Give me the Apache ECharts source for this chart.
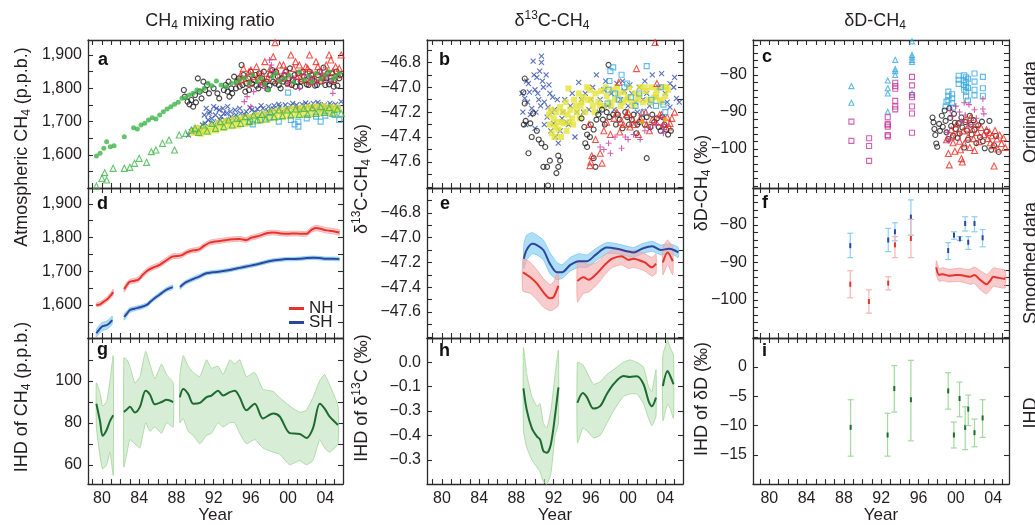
<!DOCTYPE html>
<html><head><meta charset="utf-8">
<script src="https://cdn.jsdelivr.net/npm/echarts@6/dist/echarts.min.js"></script>
<style>html,body{margin:0;padding:0;background:#fff}#c{width:1035px;height:525px}</style>
</head><body><div id="c"></div>
<script>
// ---------------- tick values ----------------
const yearTicks = [1979,1980,1981,1982,1983,1984,1985,1986,1987,1988,1989,1990,1991,1992,1993,1994,1995,1996,1997,1998,1999,2000,2001,2002,2003,2004,2005];
const yearLabels = [1980,1984,1988,1992,1996,2000,2004];
const ppbLabels = [1600,1700,1800,1900];
const ppbTicks = [1550,1600,1650,1700,1750,1800,1850,1900];
const d13Labels = [-47.6,-47.4,-47.2,-47.0,-46.8];
const d13Ticks = [-47.8,-47.7,-47.6,-47.5,-47.4,-47.3,-47.2,-47.1,-47.0,-46.9,-46.8,-46.7];
const dDLabels = [-100,-90,-80];
const dDTicks = [-110,-108,-106,-104,-102,-100,-98,-96,-94,-92,-90,-88,-86,-84,-82,-80,-78,-76,-74,-72];
const ihdCH4Labels = [60,80,100];
const ihdCH4Ticks = [60,70,80,90,100,110];
const ihd13Pos = [0,-0.1,-0.2,-0.3,-0.4];
const ihd13Text = ['0.0','\u22120.1','\u22120.3','\u22120.4','\u22120.3'];
const ihdDLabels = [-15,-10,-5,0];

// ---------------- panel a: CH4 original data [year, ppb] ----------------
const aGreenCirc = [[1979.4,1597],[1979.8,1605],[1980.2,1620],[1980.5,1640],[1980.9,1625],[1981.3,1628],[1982.4,1655],[1983.4,1682],[1983.8,1678],[1984.2,1690],[1984.6,1695],[1985.0,1705],[1985.4,1712],[1985.8,1708],[1986.2,1720],[1986.6,1730],[1987.0,1738],[1987.4,1745],[1987.8,1752],[1988.2,1758],[1988.6,1770],[1989.0,1772],[1989.4,1780],[1989.8,1785],[1990.2,1795],[1990.6,1792],[1991.0,1800],[1991.4,1815],[1991.8,1808],[1992.3,1822],[1992.8,1810],[1993.3,1805],[1993.9,1815],[1994.4,1818],[1994.8,1825],[1995.3,1832],[1995.8,1815],[1996.2,1840],[1996.7,1820],[1997.1,1830],[1997.5,1812],[1997.9,1795],[1998.3,1835],[1998.7,1845],[1999.1,1822],[1999.6,1830],[2000.1,1840],[2000.6,1818],[2001.2,1850],[2001.7,1825],[2002.2,1838],[2002.6,1820],[2003.0,1845],[2003.5,1828],[2004.0,1840],[2004.4,1850],[2004.8,1828],[2005.1,1835],[2005.5,1845]];
const aGreenTri = [[1979.4,1507],[1980.0,1530],[1980.3,1547],[1980.5,1525],[1981.2,1560],[1982.4,1560],[1983.0,1563],[1983.5,1575],[1984.0,1590],[1984.8,1578],[1985.3,1610],[1985.8,1615],[1986.5,1635],[1987.2,1645],[1987.8,1615],[1988.3,1660],[1989.0,1665],[1989.6,1675],[1990.0,1680],[1990.4,1668],[1990.9,1690],[1991.3,1672],[1991.8,1695],[1992.2,1680],[1992.7,1700],[1993.1,1685],[1993.6,1705],[1994.0,1690],[1994.5,1710],[1994.9,1695],[1995.4,1715],[1995.8,1700],[1996.3,1720],[1996.7,1705],[1997.2,1722],[1997.6,1708],[1998.1,1730],[1998.5,1715],[1999.0,1735],[1999.4,1718],[1999.9,1735],[2000.3,1720],[2000.8,1738],[2001.2,1722],[2001.7,1740],[2002.1,1722],[2002.6,1742],[2003.0,1725],[2003.5,1745],[2003.9,1728],[2004.4,1742],[2004.8,1725],[2005.3,1738],[2005.7,1725]];
const aBlackCirc = [[1988.8,1795],[1988.9,1775],[1989.2,1760],[1989.4,1752],[1989.6,1765],[1989.8,1745],[1990.0,1780],[1990.1,1758],[1990.3,1830],[1990.5,1790],[1990.7,1770],[1990.9,1820],[1991.1,1795],[1991.3,1810],[1991.5,1785],[1992.0,1800],[1992.4,1785],[1992.6,1770],[1993.3,1810],[1993.5,1790],[1993.7,1775],[1993.9,1800],[1994.2,1835],[1994.5,1820],[1994.8,1805],[1995.0,1870],[1995.2,1840],[1995.5,1815],[1995.8,1795],[1996.0,1850],[1996.3,1825],[1996.6,1808],[1996.9,1845],[1997.2,1830],[1997.5,1815],[1997.8,1798],[1998.1,1840],[1998.4,1820],[1998.7,1850],[1999.0,1810],[1999.3,1830],[1999.6,1840],[1999.9,1815],[2000.2,1860],[2000.5,1825],[2000.8,1805],[2001.1,1845],[2001.4,1820],[2001.7,1835],[2002.0,1812],[2002.3,1850],[2002.6,1828],[2002.9,1808],[2003.2,1840],[2003.5,1820],[2003.8,1862],[2004.1,1830],[2004.4,1812],[2004.7,1845],[2005.0,1825],[2005.3,1808],[2005.6,1840],
  [1993.1,1795],[1993.6,1820],[1994.0,1785],[1994.4,1800],[1994.7,1830],[1995.1,1810],[1995.4,1790],[1995.7,1830],[1996.1,1815],[1996.5,1840],[1996.8,1800],[1997.1,1810],[1997.4,1850],[1997.7,1820],[1998.0,1808],[1998.3,1855],[1998.6,1815],[1998.9,1835],[1999.2,1800],[1999.5,1820],[1999.8,1850],[2000.1,1830],[2000.4,1810],[2000.7,1840],[2001.0,1820],[2001.3,1805],[2001.6,1850],[2001.9,1825],[2002.2,1810],[2002.5,1840],[2002.8,1822],[2003.1,1810],[2003.4,1850],[2003.7,1830],[2004.0,1810],[2004.3,1845],[2004.6,1822],[2004.9,1805],[2005.2,1850],[2005.5,1830]];
const aRedTri = [[1994.6,1820],[1994.9,1840],[1995.2,1860],[1995.5,1830],[1995.8,1850],[1996.0,1855],[1996.3,1835],[1996.6,1865],[1996.9,1825],[1997.2,1845],[1997.5,1880],[1997.8,1830],[1998.1,1860],[1998.4,1895],[1998.6,1937],[1998.8,1850],[1999.1,1870],[1999.4,1830],[1999.7,1855],[2000.0,1840],[2000.3,1900],[2000.6,1860],[2000.9,1835],[2001.2,1870],[2001.5,1850],[2001.8,1825],[2002.1,1860],[2002.3,1900],[2002.6,1845],[2002.9,1830],[2003.2,1865],[2003.5,1850],[2003.8,1835],[2004.1,1870],[2004.4,1900],[2004.6,1885],[2004.8,1850],[2005.1,1865],[2005.4,1840],[2005.7,1900],
  [1995.0,1825],[1995.9,1815],[1996.8,1840],[1997.3,1820],[1998.0,1845],[1998.9,1825],[1999.5,1870],[2000.1,1815],[2000.8,1880],[2001.4,1830],[2001.9,1865],[2002.4,1820],[2003.0,1880],[2003.6,1825],[2004.2,1850],[2004.9,1825],[2005.5,1860]];
const aMagPlus = [[1995.3,1760],[1995.6,1775],[1996.0,1745],[1996.3,1790],[1997.0,1810],[1997.5,1800],[1998.0,1885],[1998.2,1870],[1998.4,1850],[1999.0,1825],[1999.5,1845],[2000.0,1815],[2000.6,1830],[2001.2,1800],[2001.8,1840],[2002.5,1830],[2003.0,1815],[2003.6,1845],[2004.2,1835],[2004.5,1820],[2004.8,1785]];
const aBlueX = [[1989.3,1660],[1989.6,1670],[1989.9,1675],[1990.2,1668],[1990.5,1682],[1990.8,1690],[1991.0,1720],[1991.2,1740],[1991.4,1705],[1991.6,1730],[1991.8,1710],[1992.0,1745],[1992.2,1720],[1992.4,1700],[1992.6,1735],[1992.8,1715],[1993.0,1740],[1993.2,1705],[1993.4,1725],[1993.6,1700],[1993.8,1730],[1994.0,1710],[1994.3,1735],[1994.6,1705],[1994.9,1725],[1995.2,1712],[1995.5,1730],[1995.8,1715],[1996.1,1735],[1996.4,1718],[1996.7,1738],[1997.0,1720],[1997.3,1740],[1997.6,1725],[1997.9,1745],[1998.2,1728],[1998.5,1748],[1998.8,1730],[1999.1,1745],[1999.4,1732],[1999.7,1750],[2000.0,1735],[2000.3,1748],[2000.6,1733],[2000.9,1750],[2001.2,1735],[2001.5,1752],[2001.8,1738],[2002.1,1750],[2002.4,1736],[2002.7,1755],[2003.0,1738],[2003.3,1752],[2003.6,1735],[2003.9,1750],[2004.2,1738],[2004.5,1755],[2004.8,1740],[2005.1,1752],[2005.4,1738],[2005.7,1760],
  [1990.6,1672],[1991.1,1695],[1991.5,1725],[1991.9,1695],[1992.3,1740],[1992.7,1705],[1993.1,1725],[1993.5,1745],[1993.9,1715],[1994.4,1720],[1994.8,1740],[1995.3,1722],[1995.9,1742],[1996.5,1728],[1997.1,1748],[1997.8,1732],[1998.4,1738],[1999.0,1752],[1999.8,1740],[2000.5,1755],[2001.1,1742],[2001.9,1756],[2002.6,1742],[2003.2,1758],[2003.9,1742],[2004.6,1748],[2005.2,1742]];
const aYellowSq = [[1989.8,1668],[1990.2,1680],[1990.6,1665],[1991.0,1678],[1991.4,1670],[1991.8,1685],[1992.2,1675],[1992.6,1695],[1993.0,1682],[1993.4,1700],[1993.8,1688],[1994.2,1705],[1994.6,1690],[1995.0,1710],[1995.4,1695],[1995.8,1712],[1996.2,1700],[1996.6,1718],[1997.0,1703],[1997.4,1722],[1997.8,1708],[1998.2,1728],[1998.6,1712],[1999.0,1732],[1999.4,1715],[1999.8,1735],[2000.2,1718],[2000.6,1738],[2001.0,1722],[2001.4,1740],[2001.8,1722],[2002.2,1742],[2002.6,1725],[2003.0,1744],[2003.4,1726],[2003.8,1745],[2004.2,1728],[2004.6,1742],[2004.9,1727],[2005.3,1740]];
const aLightBlueSq = [[1995.9,1700],[1996.2,1692],[1997.0,1705],[1998.0,1712],[1999.0,1700],[2000.0,1787],[2000.3,1705],[2000.7,1692],[2001.1,1685],[2001.1,1700],[2002.0,1710],[2003.0,1715],[2003.5,1700],[2004.0,1718],[2005.0,1720],[2005.5,1705]];

// ---------------- panel b: d13C original data [year, permil] ----------------
const bBlueX = [[1988.6,-47.05],[1988.9,-47.09],[1989.1,-46.95],[1989.3,-46.97],[1989.5,-47.22],[1989.65,-47.17],[1989.8,-46.79],[1990.0,-47.02],[1990.0,-47.33],[1990.2,-46.92],[1990.4,-47.1],[1990.5,-46.87],[1990.7,-46.75],[1990.7,-46.8],[1990.9,-47.0],[1991.0,-47.12],[1991.2,-46.9],[1991.3,-47.24],[1991.4,-47.16],[1991.6,-47.05],[1991.8,-47.2],[1992.0,-47.29],[1992.2,-47.4],[1992.4,-47.1],[1992.7,-47.35],[1993.0,-47.2],[1993.4,-47.28],[1993.8,-47.15],[1994.3,-47.4],[1994.7,-46.96],[1995.0,-47.1],[1995.4,-47.05],[1995.8,-47.18],[1996.2,-47.0],[1996.6,-46.9],[1997.0,-47.1],[1997.4,-47.02],[1997.8,-47.15],[1998.2,-47.05],[1998.8,-46.97],[1999.2,-47.1],[1999.6,-47.03],[2000.0,-47.15],[2000.4,-47.05],[2000.8,-47.12],[2001.2,-47.0],[2001.6,-47.1],[2002.0,-47.05],[2002.6,-46.9],[2003.0,-47.08],[2003.6,-46.89],[2004.0,-47.05],[2004.5,-46.97],[2004.5,-47.16],[2004.9,-47.0],[2005.2,-47.09],[2005.5,-47.12],
  [1988.7,-47.2],[1989.0,-47.3],[1989.2,-47.12],[1989.4,-47.04],[1989.9,-46.9],[1990.1,-47.2],[1990.3,-47.05],[1990.6,-47.15],[1990.8,-46.95],[1991.0,-47.3],[1991.5,-46.98],[1991.7,-47.35],[1991.9,-47.08],[1992.1,-47.18],[1992.5,-47.45],[1992.9,-47.25],[1993.2,-47.1],[1993.6,-47.3],[1994.0,-47.05],[1994.5,-47.2],[1995.2,-47.2],[1996.0,-47.1],[1996.9,-47.2],[1997.6,-46.95],[1998.5,-47.18],[1999.4,-46.95],[2000.2,-46.98],[2001.0,-47.2],[2001.8,-46.95],[2002.3,-47.15],[2003.3,-47.0],[2004.2,-47.12],[2005.0,-46.92]];
const bBlackCirc = [[1988.75,-47.04],[1988.9,-46.93],[1988.9,-47.13],[1988.8,-47.3],[1989.0,-47.27],[1989.3,-47.53],[1989.5,-47.29],[1989.65,-47.4],[1989.8,-47.21],[1990.2,-47.35],[1990.4,-47.42],[1990.7,-47.45],[1990.9,-47.64],[1991.1,-47.48],[1991.3,-47.64],[1991.4,-47.79],[1991.6,-47.59],[1992.3,-47.69],[1992.5,-47.55],[1992.5,-47.64],[1992.7,-47.59],[1995.0,-47.25],[1995.3,-47.32],[1995.6,-47.38],[1995.6,-47.48],[1995.9,-47.4],[1996.3,-47.34],[1996.3,-47.57],[1996.5,-47.64],[1996.6,-47.26],[1997.2,-47.18],[1997.5,-47.3],[1997.7,-47.2],[1997.9,-46.82],[1998.4,-47.22],[1998.7,-47.3],[1999.1,-47.26],[1999.4,-47.33],[1999.7,-47.2],[2000.1,-47.3],[2000.4,-47.26],[2000.9,-47.37],[2001.2,-47.28],[2001.5,-47.25],[2002.0,-47.24],[2002.0,-47.57],[2002.4,-47.32],[2002.8,-47.28],[2003.1,-47.25],[2003.5,-47.35],[2003.9,-47.3],[2004.3,-47.38],[2004.6,-47.35],
  [1995.4,-47.45],[1996.0,-47.3],[1996.8,-47.22],[1997.3,-47.26],[1998.0,-47.24],[1998.9,-47.22],[1999.9,-47.24],[2000.6,-47.22],[2001.0,-47.3],[2001.8,-47.3],[2002.6,-47.22],[2003.3,-47.32],[2003.7,-47.24],[2004.1,-47.34]];
const bYellowSq = [[1991.5,-47.22],[1991.6,-47.3],[1991.8,-47.37],[1992.0,-47.25],[1992.2,-47.32],[1992.3,-47.2],[1992.5,-47.34],[1992.7,-47.16],[1992.9,-47.28],[1993.1,-47.29],[1993.3,-47.12],[1993.5,-47.22],[1993.6,-47.01],[1993.8,-47.18],[1994.0,-47.25],[1994.2,-47.1],[1994.5,-47.2],[1994.7,-47.05],[1994.9,-47.15],[1995.2,-47.08],[1995.4,-47.2],[1995.7,-47.1],[1995.9,-47.02],[1996.2,-47.15],[1996.5,-47.05],[1996.8,-47.12],[1997.1,-47.03],[1997.4,-47.15],[1997.7,-47.07],[1998.0,-47.12],[1998.3,-47.02],[1998.6,-47.1],[1998.9,-47.05],[1999.2,-47.15],[1999.5,-47.04],[1999.8,-47.1],[2000.1,-47.0],[2000.4,-47.12],[2000.7,-47.05],[2001.0,-47.1],[2001.3,-47.0],[2001.6,-47.12],[2001.9,-47.03],[2002.2,-47.1],[2002.5,-47.0],[2002.8,-47.08],[2003.1,-47.02],[2003.4,-47.1],[2003.7,-47.0],[2004.0,-47.07],[2004.3,-47.02],
  [1991.7,-47.18],[1992.1,-47.4],[1992.4,-47.28],[1992.8,-47.4],[1993.0,-47.2],[1993.4,-47.35],[1993.7,-47.28],[1994.1,-47.3],[1994.4,-47.15],[1994.8,-47.25],[1995.0,-47.12],[1995.6,-47.0],[1996.0,-47.1],[1996.4,-47.2],[1997.0,-47.15],[1997.6,-47.0],[1998.2,-47.15],[1998.8,-47.0],[1999.4,-47.12],[2000.0,-47.08],[2000.6,-47.15],[2001.2,-47.06],[2001.8,-47.0],[2002.4,-47.12],[2003.0,-47.06],[2003.6,-47.12],[2004.1,-47.0]];
const bRedTri = [[1995.8,-47.3],[1995.9,-47.63],[1996.0,-47.6],[1996.1,-47.55],[1996.5,-47.42],[1997.0,-47.53],[1997.2,-47.61],[1997.4,-47.35],[1997.7,-47.28],[1998.1,-47.38],[1998.5,-47.25],[1999.0,-46.96],[1999.1,-47.36],[1999.5,-47.3],[1999.8,-47.22],[2000.2,-47.32],[2000.5,-47.26],[2000.9,-46.85],[2001.1,-47.38],[2001.5,-47.2],[2002.0,-47.3],[2002.6,-47.26],[2002.9,-46.64],[2003.1,-46.97],[2003.4,-47.22],[2003.8,-47.3],[2004.2,-47.24],[2004.5,-47.29],[2004.7,-47.25],[2005.0,-47.2],
  [1998.8,-47.2],[1999.2,-47.28],[2000.0,-47.2],[2000.7,-47.3],[2001.3,-47.25],[2001.9,-47.2],[2002.3,-47.35],[2003.0,-47.28],[2003.6,-47.22],[2004.4,-47.32]];
const bMagPlus = [[1997.0,-47.48],[1997.4,-47.5],[1997.9,-47.45],[1998.1,-47.53],[1998.6,-47.4],[1999.3,-47.49],[1999.7,-47.4],[2000.0,-47.42],[2000.6,-47.38],[2001.3,-47.42],[2001.8,-47.35],[2002.4,-47.33],[2003.0,-47.3],[2003.8,-47.25],[2003.8,-47.3],[2003.8,-47.34],[2003.8,-47.37]];
const bLightBlueSq = [[1997.8,-47.13],[1997.9,-47.02],[1998.0,-46.95],[1998.1,-46.87],[1998.4,-46.84],[1998.6,-47.05],[1999.0,-47.1],[1999.3,-46.9],[1999.6,-47.0],[1999.9,-46.97],[2000.3,-47.08],[2000.8,-47.15],[2001.2,-47.05],[2001.7,-47.2],[2002.0,-46.83],[2002.5,-47.1],[2003.0,-47.15],[2003.5,-47.0],[2003.8,-47.14],[2004.0,-47.2]];
const bOrangeCirc = [[2001.5,-47.28],[2004.0,-47.26]];

// ---------------- panel c: dD original data [year, permil] ----------------
const cTriLB = [[1988.8,-83],[1988.8,-87.5],[1992.7,-81.5],[1992.7,-83.6],[1992.7,-85],[1992.7,-89.9],[1993.5,-75.9],[1993.5,-78.4],[1993.5,-79],[1993.5,-80],[1995.3,-70.9],[1995.3,-74.6],[1995.3,-75.2],[1995.3,-75.9],[1995.3,-76.5],[1995.3,-85]];
const cSqMag = [[1988.8,-92.6],[1988.8,-97.8],[1990.7,-97.1],[1990.7,-99.2],[1990.7,-103.2],[1992.7,-91.4],[1992.7,-93.2],[1992.7,-93.6],[1992.7,-94],[1992.7,-96.2],[1992.7,-96.6],[1993.5,-82.1],[1993.5,-83],[1993.5,-83.7],[1993.5,-87],[1993.5,-88.5],[1993.5,-89.3],[1995.3,-80.5],[1995.3,-82.8],[1995.3,-85.4],[1995.3,-86],[1995.3,-88.5],[1995.3,-90.4],[1995.3,-95.6]];
const cSqLB = [[1998.9,-88.5],[1999.0,-87.2],[1999.2,-84.5],[1999.2,-85.6],[1999.2,-86.8],[1999.6,-85.2],[1999.6,-86.3],[1999.6,-87.6],[1999.7,-88.8],[2000.3,-80.2],[2000.3,-81.3],[2000.3,-82.4],[2000.9,-80.1],[2000.9,-81.5],[2000.9,-82.7],[2000.9,-84],[2001.1,-80.6],[2001.1,-82],[2001.1,-83.2],[2001.1,-84.5],[2001.1,-85.8],[2001.3,-81],[2001.3,-83.5],[2001.3,-86.9],[2002.0,-79.6],[2002.0,-81.8],[2002.0,-84],[2002.0,-85.5],[2002.9,-80.5],[2002.9,-83.6],[2002.9,-85.6]];
const cCircBlk = [[1997.5,-91.5],[1997.6,-92.8],[1997.7,-94.6],[1997.8,-96.2],[1997.9,-98.5],[1998.0,-99.4],[1998.2,-93.2],[1998.3,-95.1],[1998.5,-91],[1998.6,-94],[1998.8,-89.6],[1998.9,-92.4],[1999.0,-95.5],[1999.2,-97.3],[1999.3,-89],[1999.4,-91.6],[1999.5,-93.8],[1999.7,-96.4],[1999.8,-90.5],[1999.9,-92.9],[2000.0,-94.6],[2000.2,-97],[2000.3,-93],[2000.4,-95.8],[2000.6,-91.5],[2000.7,-94.2],[2000.9,-99.6],[2001.0,-92.7],[2001.2,-95],[2001.3,-97.5],[2001.5,-91],[2001.6,-93.4],[2001.7,-96.1],[2001.9,-92.2],[2002.0,-94.8],[2002.2,-98.4],[2002.4,-93.6],[2002.6,-96.8],[2002.8,-92.6],[2002.9,-97.9],[2003.1,-99.8],[2003.3,-95.3],[2003.6,-92.4],[2003.8,-100.2],[2004.1,-99],[2004.3,-96.5],[2004.6,-100.8]];
const cTriRed = [[1999.0,-97.5],[1999.2,-101.2],[1999.3,-104.3],[1999.5,-94.8],[1999.6,-96.7],[1999.7,-98.3],[1999.9,-100.6],[2000.1,-93.2],[2000.2,-95.6],[2000.4,-97.9],[2000.5,-100.2],[2000.6,-102.6],[2000.7,-103.5],[2000.8,-95.1],[2000.9,-98.6],[2001.1,-92],[2001.2,-94.4],[2001.3,-96.8],[2001.5,-99.6],[2001.6,-91.5],[2001.8,-94.7],[2001.9,-97.2],[2002.0,-100.4],[2002.2,-93.1],[2002.3,-95.5],[2002.5,-98],[2002.7,-94.2],[2003.0,-96.1],[2003.3,-94.8],[2003.4,-97.2],[2003.6,-95.5],[2003.7,-98.3],[2003.9,-96.4],[2004.0,-99.1],[2004.1,-104.6],[2004.2,-95],[2004.4,-97.3],[2004.5,-100],[2004.7,-96.2],[2004.9,-98.5],[2005.1,-97],[2005.3,-99.6]];
const cPlusMag = [[1999.1,-95.5],[1999.2,-97.8],[1999.4,-89.6],[1999.6,-91.2],[2000.0,-88.4],[2000.4,-90],[2000.6,-92.6],[2000.9,-87.5],[2001.0,-90.8],[2001.4,-88],[2001.5,-93.4],[2002.0,-89.4],[2002.2,-91.7],[2002.9,-86.5],[2002.9,-89.2],[2003.0,-90.5]];

// ---------------- panel d: smoothed CH4 [year, mid, low, high] ----------------
const dNH1 = [[1979.4,1600,1595,1606],[1979.8,1602,1596,1609],[1980.2,1610,1603,1617],[1980.6,1618,1611,1626],[1981.0,1630,1622,1639],[1981.2,1638,1629,1647]];
const dNH2 = [[1982.4,1647,1638,1655],[1982.7,1660,1652,1668],[1983.0,1669,1662,1676],[1983.5,1672,1665,1679],[1983.9,1675,1668,1683],[1984.4,1690,1683,1698],[1985.0,1704,1697,1712],[1985.6,1712,1705,1720],[1986.2,1719,1712,1727],[1986.9,1732,1725,1740],[1987.6,1744,1737,1752],[1988.1,1745,1738,1752],[1988.6,1748,1741,1755],[1989.1,1756,1749,1763],[1989.6,1761,1754,1768],[1990.1,1763,1756,1770],[1990.5,1766,1759,1773],[1991.0,1776,1769,1783],[1991.6,1785,1778,1792],[1992.1,1788,1781,1795],[1992.7,1790,1783,1797],[1993.4,1793,1786,1800],[1994.1,1795,1788,1802],[1994.8,1796,1789,1803],[1995.5,1793,1786,1800],[1996.0,1799,1792,1806],[1996.6,1803,1796,1810],[1997.2,1808,1801,1815],[1997.7,1813,1806,1820],[1998.3,1815,1808,1822],[1998.8,1814,1807,1821],[1999.3,1812,1805,1819],[1999.8,1811,1804,1818],[2000.4,1812,1805,1819],[2000.9,1812,1805,1819],[2001.5,1811,1804,1818],[2002.0,1811,1804,1818],[2002.5,1823,1815,1831],[2003.0,1828,1820,1836],[2003.5,1826,1818,1834],[2004.0,1822,1814,1830],[2004.5,1820,1812,1828],[2005.0,1818,1810,1826],[2005.5,1815,1807,1823]];
const dSH1 = [[1979.4,1516,1505,1527],[1979.7,1527,1515,1539],[1980.0,1536,1524,1548],[1980.5,1540,1528,1552],[1980.8,1546,1534,1558],[1981.1,1555,1543,1567]];
const dSH2 = [[1982.4,1565,1555,1575],[1982.7,1575,1567,1583],[1983.0,1585,1578,1592],[1983.5,1589,1583,1595],[1984.1,1593,1587,1599],[1984.8,1600,1594,1606],[1985.3,1612,1606,1618],[1985.9,1625,1619,1631],[1986.4,1635,1629,1641],[1986.9,1645,1639,1651],[1987.6,1653,1647,1659]];
const dSH3 = [[1988.4,1653,1647,1659],[1988.9,1665,1659,1671],[1989.3,1671,1665,1677],[1989.8,1677,1671,1683],[1990.5,1685,1679,1691],[1991.2,1694,1689,1699],[1991.9,1697,1692,1702],[1992.7,1699,1694,1704],[1993.4,1702,1697,1707],[1994.1,1706,1701,1711],[1994.8,1710,1705,1715],[1995.5,1714,1709,1719],[1996.2,1718,1713,1723],[1996.9,1722,1717,1727],[1997.7,1728,1723,1733],[1998.4,1732,1727,1737],[1999.1,1734,1729,1739],[1999.8,1736,1731,1741],[2000.5,1736,1731,1741],[2001.2,1737,1732,1742],[2002.0,1739,1734,1744],[2002.7,1740,1735,1745],[2003.4,1739,1734,1744],[2004.1,1737,1732,1742],[2004.8,1737,1732,1742],[2005.5,1736,1731,1741]];

// ---------------- panel e: smoothed d13C [year, mid, low, high] ----------------
const eSH = [[1988.8,-47.17,-47.25,-47.06],[1989.1,-47.10,-47.18,-46.98],[1989.7,-47.05,-47.13,-46.96],[1990.2,-47.06,-47.14,-46.98],[1990.9,-47.10,-47.18,-47.02],[1991.6,-47.21,-47.29,-47.12],[1992.35,-47.28,-47.34,-47.2],[1992.9,-47.28,-47.33,-47.22],[1993.8,-47.22,-47.27,-47.16],[1994.7,-47.19,-47.24,-47.13],[1995.6,-47.19,-47.24,-47.14],[1996.5,-47.14,-47.19,-47.09],[1997.7,-47.08,-47.13,-47.04],[1998.8,-47.09,-47.13,-47.05],[1999.9,-47.11,-47.15,-47.07],[2000.6,-47.12,-47.16,-47.08],[2001.5,-47.09,-47.13,-47.05],[2002.6,-47.07,-47.11,-47.03],[2003.5,-47.10,-47.14,-47.06],[2004.4,-47.09,-47.13,-47.05],[2004.9,-47.10,-47.14,-47.06],[2005.4,-47.12,-47.16,-47.08]];
const eNH1 = [[1988.7,-47.28,-47.43,-47.17],[1989.5,-47.32,-47.45,-47.2],[1990.2,-47.37,-47.5,-47.26],[1990.9,-47.44,-47.56,-47.33],[1991.6,-47.49,-47.59,-47.38],[1992.0,-47.48,-47.58,-47.36],[1992.5,-47.39,-47.55,-47.27]];
const eNH2 = [[1994.56,-47.35,-47.52,-47.2],[1995.2,-47.32,-47.45,-47.2],[1995.75,-47.34,-47.44,-47.22],[1996.65,-47.29,-47.38,-47.2],[1997.5,-47.22,-47.3,-47.14],[1998.3,-47.17,-47.24,-47.1],[1999.3,-47.15,-47.22,-47.09],[2000.05,-47.18,-47.25,-47.11],[2000.6,-47.17,-47.24,-47.1],[2001.1,-47.18,-47.25,-47.11],[2001.8,-47.20,-47.27,-47.13],[2002.56,-47.24,-47.31,-47.16],[2003.0,-47.21,-47.29,-47.13]];
const eNH3 = [[2003.74,-47.20,-47.3,-47.08],[2004.24,-47.12,-47.22,-47.02],[2004.8,-47.19,-47.3,-47.08]];

// ---------------- panel f: smoothed dD [year, mid, low, high] ----------------
const fSHerr = [[1988.68,-85.5,-88.7,-82.2],[1992.75,-84,-87.1,-80.9],[1993.47,-81.8,-84.2,-79.4],[1995.18,-77.9,-82.7,-73.3],[1999.18,-86.8,-89.2,-84.7],[1999.8,-82.7,-83.8,-81.8],[2000.43,-83.7,-84.1,-83.1],[2001.0,-79.6,-81.6,-77.8],[2001.33,-84.6,-86.5,-83.1],[2002.0,-79.6,-81.8,-77.8],[2002.87,-83.4,-85.8,-81.2]];
const fNHerr = [[1988.68,-95.8,-99.4,-92.2],[1990.68,-100.4,-103.5,-97.3],[1992.75,-95.5,-97.3,-93.8],[1993.47,-85.3,-88.7,-83.1],[1995.18,-83.6,-88.7,-78.5]];
const fNH = [[1997.9,-91.3,-93.2,-89.5],[1998.2,-93.3,-95,-91.6],[1998.6,-93.1,-94.8,-91.4],[1999.2,-93.5,-95.2,-91.8],[1999.8,-93.4,-95.1,-91.7],[2000.4,-93.3,-95.1,-91.5],[2001.0,-93.6,-95.4,-91.8],[2001.5,-93.8,-95.8,-91.8],[2002.0,-93.3,-95.6,-91.2],[2002.5,-94.4,-97,-92],[2003.0,-95.4,-98,-92.8],[2003.3,-95.8,-98.3,-93.2],[2003.7,-94.8,-97.3,-92.4],[2004.0,-93.8,-96.3,-91.4],[2004.6,-94.1,-96.6,-91.7],[2005.3,-94.4,-96.8,-92]];

// ---------------- panel g: IHD of CH4 [year, mid, low, high] ----------------
const g1 = [[1979.4,89.1,78,99],[1979.8,80.6,64,94],[1980.07,73.8,58,88],[1980.5,76.6,60,90],[1980.86,80.8,66,100],[1981.21,83.6,55,112]];
const g2 = [[1982.36,85.2,59,111],[1982.7,86.5,66,110],[1983.0,87.6,72,107],[1983.54,84.9,70,99],[1984.08,87.6,68,102],[1984.69,95.3,80,114],[1985.15,93.5,76,108],[1985.69,88.8,78,101],[1986.4,89.9,75,108],[1986.94,91,80,103],[1987.65,89.9,78,99]];
const g3 = [[1988.37,92.2,80,102],[1988.73,96.1,82,112],[1989.26,93.8,76,107],[1989.8,89.1,74,104],[1990.52,89.5,70,102],[1991.24,92.2,74,110],[1991.77,93,75,106],[1992.48,95.3,80,107],[1993.02,93,78,103],[1993.74,94.6,80,110],[1994.27,95.3,80,108],[1994.8,92.2,75,110],[1995.52,86,70,102],[1996.42,89.1,72,104],[1997.3,82.1,68,96],[1998.39,84.4,66,95],[1999.1,83,65,92],[2000.17,75.1,60,88],[2001.25,74.7,62,85],[2001.96,72.8,60,86],[2002.67,77.4,62,92],[2003.4,89.1,72,100],[2003.93,86.8,68,103],[2004.47,82.9,66,98],[2005.36,79,70,88]];

// ---------------- panel h: IHD of d13C (plotted on the printed tick positions) ----------------
const h1 = [[1988.76,-0.107,-0.28,0.06],[1989.12,-0.197,-0.35,-0.05],[1989.66,-0.27,-0.4,-0.14],[1990.2,-0.304,-0.43,-0.18],[1990.55,-0.317,-0.45,-0.17],[1990.9,-0.364,-0.49,-0.25],[1991.27,-0.371,-0.5,-0.27],[1991.7,-0.337,-0.46,-0.2],[1992.16,-0.217,-0.3,-0.05],[1992.52,-0.103,-0.25,0.05]];
const h2 = [[1994.56,-0.166,-0.33,0.0],[1995.14,-0.126,-0.27,-0.01],[1995.57,-0.143,-0.28,-0.04],[1996.28,-0.19,-0.31,-0.09],[1997.0,-0.18,-0.3,-0.08],[1997.72,-0.13,-0.25,-0.05],[1998.43,-0.09,-0.2,-0.03],[1999.5,-0.056,-0.14,0.0],[2000.2,-0.06,-0.13,0.01],[2000.95,-0.057,-0.13,0.0],[2001.66,-0.09,-0.17,-0.02],[2002.2,-0.159,-0.23,-0.1],[2002.56,-0.18,-0.26,-0.12],[2003.0,-0.145,-0.22,-0.03]];
const h3 = [[2003.74,-0.097,-0.24,0.03],[2004.24,-0.036,-0.17,0.09],[2004.53,-0.056,-0.19,0.06],[2004.88,-0.09,-0.23,0.03]];

// ---------------- panel i: IHD of dD [year, mid, low, high] ----------------
const iErr = [[1988.72,-10.3,-15.2,-5.6],[1992.68,-11.6,-15.2,-7.9],[1993.4,-3.7,-7.7,0.2],[1995.18,-5.6,-12.6,1.1],[1999.18,-4.1,-7.2,-1.0],[1999.79,-11.6,-13.8,-9.4],[2000.4,-5.4,-8.5,-2.6],[2001.0,-10.3,-14.1,-6.8],[2001.33,-7.2,-10.0,-4.8],[2002.0,-11.2,-13.6,-8.9],[2002.87,-8.7,-12.0,-5.6]];

// =================== chart construction ===================
const FONT = 'Liberation Sans, Arial, Helvetica, sans-serif';
const AX = '#2b2b2b';
const TXT = '#231f20';
const C = {green:'#3db54a', red:'#ee2a24', black:'#1a1a1a', mag:'#c8389e', blue:'#2f4fae', yellow:'#e4e23a', lblue:'#39a9e1', orange:'#f5a623',
  nh:'#e8322b', nhBand:'rgba(244,170,170,0.6)', nhEdge:'#f2a3a3', sh:'#2c46a0', shBand:'rgba(130,205,240,0.65)', shEdge:'#7cc8ee',
  ihd:'#1d6b33', ihdBand:'rgba(190,225,185,0.6)', ihdEdge:'#9fd597', errBlue:'#8ccff0', errRed:'#f5b5b5', errGreen:'#a3d99d'};

const colLeft = [88, 427, 753];
const colW = [255, 256, 256];
const rowTop = [40, 188, 338];
const rowH = [148, 150, 149];
const xRange = [[1978.5,2005.9],[1978.4,2005.9],[1978.25,2005.7]];

const minus = v => (v < 0 ? '\u2212' : '') + Math.abs(v);
const fmtPPB = v => String(v).replace(/\B(?=(\d{3})+(?!\d))/g, ',');
const fmtD13 = v => (v < 0 ? '\u2212' : '') + Math.abs(v).toFixed(1);
const fmtH = v => { let k = ihd13Pos.findIndex(p => Math.abs(p - v) < 1e-6); return k >= 0 ? ihd13Text[k] : ''; };
const fmtYear = v => String(Math.round(v) % 100).padStart(2, '0');

const yCfg = [
  {min:1501, max:1945, labels:ppbLabels, ticks:ppbTicks, fmt:fmtPPB},
  {min:-47.81, max:-46.62, labels:d13Labels, ticks:d13Ticks, fmt:fmtD13},
  {min:-110.54, max:-70.54, labels:dDLabels, ticks:dDTicks, fmt:minus},
  {min:1502, max:1947, labels:ppbLabels, ticks:ppbTicks, fmt:fmtPPB},
  {min:-47.81, max:-46.6, labels:d13Labels, ticks:d13Ticks, fmt:fmtD13},
  {min:-110.13, max:-70.13, labels:dDLabels, ticks:dDTicks, fmt:minus},
  {min:50.8, max:120.4, labels:ihdCH4Labels, ticks:ihdCH4Ticks, fmt:v=>String(v)},
  {min:-0.5, max:0.1, labels:ihd13Pos, ticks:ihd13Pos, fmt:fmtH},
  {min:-19.95, max:4.9, labels:ihdDLabels, ticks:ihdDLabels, fmt:minus}
];

const grid = [], xAxis = [], yAxis = [];
for (let p = 0; p < 9; p++) {
  const r = Math.floor(p / 3), c = p % 3;
  grid.push({left: colLeft[c], top: rowTop[r], width: colW[c], height: rowH[r], show: false});
  const lineCommon = {show: true, onZero: false, lineStyle: {color: AX, width: 1.3}};
  const tickCommon = {show: true, inside: true, length: 5, lineStyle: {color: AX, width: 1.1}};
  [ 'bottom', 'top' ].forEach(pos => {
    xAxis.push({type: 'value', gridIndex: p, min: xRange[c][0], max: xRange[c][1], position: pos,
      axisLine: lineCommon, axisTick: Object.assign({customValues: yearTicks}, tickCommon),
      axisLabel: {show: pos === 'bottom' && r === 2, customValues: yearLabels, formatter: fmtYear, fontSize: 16, color: TXT, fontFamily: FONT, margin: 6},
      splitLine: {show: false},
      name: (pos === 'bottom' && r === 2) ? 'Year' : '', nameLocation: 'middle', nameGap: 20,
      nameTextStyle: {fontSize: 17, color: TXT, fontFamily: FONT}});
  });
  const y = yCfg[p];
  [ 'left', 'right' ].forEach(pos => {
    yAxis.push({type: 'value', gridIndex: p, min: y.min, max: y.max, position: pos,
      axisLine: lineCommon, axisTick: Object.assign({customValues: y.ticks}, tickCommon),
      axisLabel: {show: pos === 'left', customValues: y.labels, formatter: y.fmt, fontSize: 16, color: TXT, fontFamily: FONT, margin: 6},
      splitLine: {show: false}});
  });
}

const SYM = {x: 'path://M0,0L10,10M10,0L0,10', plus: 'path://M5,0L5,10M0,5L10,5'};
function sc(p, data, symbol, color, filled, size, z) {
  return {type: 'scatter', xAxisIndex: p * 2, yAxisIndex: p * 2, data: data, symbol: symbol, symbolSize: size, z: z || 2, silent: true,
    itemStyle: filled ? {color: color} : {color: 'rgba(255,255,255,0)', borderColor: color, borderWidth: 1.1}};
}
function band(p, rows, fill, edge) {
  return {type: 'custom', xAxisIndex: p * 2, yAxisIndex: p * 2, data: rows, silent: true, z: 1, encode: {x: 0, y: 1},
    renderItem: function (params, api) {
      if (params.dataIndex !== 0) return null;
      const up = rows.map(rw => api.coord([rw[0], rw[3]]));
      const lo = rows.map(rw => api.coord([rw[0], rw[2]])).reverse();
      return {type: 'polygon', shape: {points: up.concat(lo), smooth: 0.15}, style: {fill: fill, stroke: edge, lineWidth: 0.8}};
    }};
}
function line(p, rows, color, name) {
  return {type: 'line', name: name, xAxisIndex: p * 2, yAxisIndex: p * 2, data: rows.map(rw => [rw[0], rw[1]]), symbol: 'none', smooth: 0.3,
    silent: true, z: 3, lineStyle: {color: color, width: 2}, itemStyle: {color: color}};
}
function err(p, rows, light, dark) {
  return {type: 'custom', xAxisIndex: p * 2, yAxisIndex: p * 2, data: rows, silent: true, z: 3, encode: {x: 0, y: 1},
    renderItem: function (params, api) {
      const x = api.value(0);
      const pl = api.coord([x, api.value(2)]), ph = api.coord([x, api.value(3)]), pm = api.coord([x, api.value(1)]);
      const st = {stroke: light, lineWidth: 1.2};
      return {type: 'group', children: [
        {type: 'line', shape: {x1: pl[0], y1: pl[1], x2: ph[0], y2: ph[1]}, style: st},
        {type: 'line', shape: {x1: pl[0] - 3, y1: pl[1], x2: pl[0] + 3, y2: pl[1]}, style: st},
        {type: 'line', shape: {x1: ph[0] - 3, y1: ph[1], x2: ph[0] + 3, y2: ph[1]}, style: st},
        {type: 'line', shape: {x1: pm[0], y1: pm[1] - 2.5, x2: pm[0], y2: pm[1] + 2.5}, style: {stroke: dark, lineWidth: 2}}
      ]};
    }};
}

const series = [
  // a
  sc(0, aBlueX, SYM.x, C.blue, false, 5, 2),
  sc(0, aYellowSq, 'rect', C.yellow, true, 7, 3),
  sc(0, aLightBlueSq, 'rect', C.lblue, false, 5, 3),
  sc(0, aGreenTri, 'triangle', C.green, false, 6, 4),
  sc(0, aBlackCirc, 'circle', C.black, false, 5, 2),
  sc(0, aRedTri, 'triangle', C.red, false, 6, 3),
  sc(0, aMagPlus, SYM.plus, C.mag, false, 6, 3),
  sc(0, aGreenCirc, 'circle', C.green, true, 5, 4),
  // b
  sc(1, bBlueX, SYM.x, C.blue, false, 5, 2),
  sc(1, bYellowSq, 'rect', C.yellow, true, 6, 3),
  sc(1, bBlackCirc, 'circle', C.black, false, 5, 4),
  sc(1, bRedTri, 'triangle', C.red, false, 6, 4),
  sc(1, bMagPlus, SYM.plus, C.mag, false, 6, 4),
  sc(1, bLightBlueSq, 'rect', C.lblue, false, 5, 4),
  sc(1, bOrangeCirc, 'circle', C.orange, true, 5, 4),
  // c
  sc(2, cTriLB, 'triangle', C.lblue, false, 5, 3),
  sc(2, cSqMag, 'rect', C.mag, false, 5, 3),
  sc(2, cSqLB, 'rect', C.lblue, false, 5, 3),
  sc(2, cCircBlk, 'circle', C.black, false, 5, 3),
  sc(2, cTriRed, 'triangle', C.red, false, 6, 4),
  sc(2, cPlusMag, SYM.plus, C.mag, false, 6, 4),
  // d
  band(3, dNH1, C.nhBand, C.nhEdge), band(3, dNH2, C.nhBand, C.nhEdge),
  band(3, dSH1, C.shBand, C.shEdge), band(3, dSH2, C.shBand, C.shEdge), band(3, dSH3, C.shBand, C.shEdge),
  line(3, dNH1, C.nh, 'NH'), line(3, dNH2, C.nh, 'NH'),
  line(3, dSH1, C.sh, 'SH'), line(3, dSH2, C.sh, 'SH'), line(3, dSH3, C.sh, 'SH'),
  // e
  band(4, eSH, C.shBand, C.shEdge), band(4, eNH1, C.nhBand, C.nhEdge), band(4, eNH2, C.nhBand, C.nhEdge), band(4, eNH3, C.nhBand, C.nhEdge),
  line(4, eSH, C.sh), line(4, eNH1, C.nh), line(4, eNH2, C.nh), line(4, eNH3, C.nh),
  // f
  band(5, fNH, C.nhBand, C.nhEdge), line(5, fNH, C.nh),
  err(5, fSHerr, C.errBlue, C.sh), err(5, fNHerr, C.errRed, C.nh),
  // g
  band(6, g1, C.ihdBand, C.ihdEdge), band(6, g2, C.ihdBand, C.ihdEdge), band(6, g3, C.ihdBand, C.ihdEdge),
  line(6, g1, C.ihd), line(6, g2, C.ihd), line(6, g3, C.ihd),
  // h
  band(7, h1, C.ihdBand, C.ihdEdge), band(7, h2, C.ihdBand, C.ihdEdge), band(7, h3, C.ihdBand, C.ihdEdge),
  line(7, h1, C.ihd), line(7, h2, C.ihd), line(7, h3, C.ihd),
  // i
  err(8, iErr, C.errGreen, C.ihd)
];

const n = {fontSize: 18, fontFamily: FONT, fill: TXT, lineHeight: 22};
const s = {fontSize: 12, fontFamily: FONT, fill: TXT, lineHeight: 12, verticalAlign: 'bottom'};
const sp = {fontSize: 12, fontFamily: FONT, fill: TXT, lineHeight: 12, verticalAlign: 'top'};
const rich = {n: n, s: s, p: sp};
function txt(x, y, text, rot) {
  return {type: 'text', x: x, y: y, rotation: rot ? Math.PI / 2 : 0, silent: true,
    style: {text: text, rich: rich, align: 'center', verticalAlign: 'middle', fontSize: 18, fontFamily: FONT, fill: TXT}};
}
const letters = [['a',98,60],['b',439,60],['c',762,57],['d',97,204.5],['e',440,204.5],['f',762,203],['g',97,350],['h',439,351],['i',762,351]];
const graphic = [
  txt(210, 21, '{n|CH}{s|4}{n| mixing ratio}'),
  txt(552, 21, '{n|\u03b4}{p|13}{n|C-CH}{s|4}'),
  txt(875, 21, '{n|\u03b4D-CH}{s|4}'),
  txt(22, 147, '{n|Atmospheric CH}{s|4}{n| (p.p.b.)}', true),
  txt(22, 397, '{n|IHD of CH}{s|4}{n| (p.p.b.)}', true),
  txt(362, 179, '{n|\u03b4}{p|13}{n|C-CH}{s|4}{n| (\u2030)}', true),
  txt(362, 398, '{n|IHD of \u03b4}{p|13}{n|C (\u2030)}', true),
  txt(702, 183, '{n|\u03b4D-CH}{s|4}{n| (\u2030)}', true),
  txt(702, 399, '{n|IHD of \u03b4D (\u2030)}', true),
  txt(1031, 112, '{n|Original data}', true),
  txt(1031, 263, '{n|Smoothed data}', true),
  txt(1031, 413, '{n|IHD}', true)
].concat(letters.map(l => ({type: 'text', x: l[1], y: l[2], silent: true,
  style: {text: l[0], fontSize: 18, fontWeight: 'bold', fontFamily: FONT, fill: '#111', align: 'left', verticalAlign: 'middle'}})));

const chart = echarts.init(document.getElementById('c'), null, {renderer: 'canvas'});
chart.setOption({
  animation: false,
  backgroundColor: '#fff',
  grid: grid, xAxis: xAxis, yAxis: yAxis, series: series, graphic: graphic,
  legend: {show: true, data: ['NH', 'SH'], orient: 'vertical', left: 289, top: 300, itemWidth: 15, itemHeight: 3, itemGap: -3,
    icon: 'rect', selectedMode: false, padding: 0, textStyle: {fontSize: 17, fontFamily: FONT, color: TXT, lineHeight: 15}}
});
</script></body></html>
